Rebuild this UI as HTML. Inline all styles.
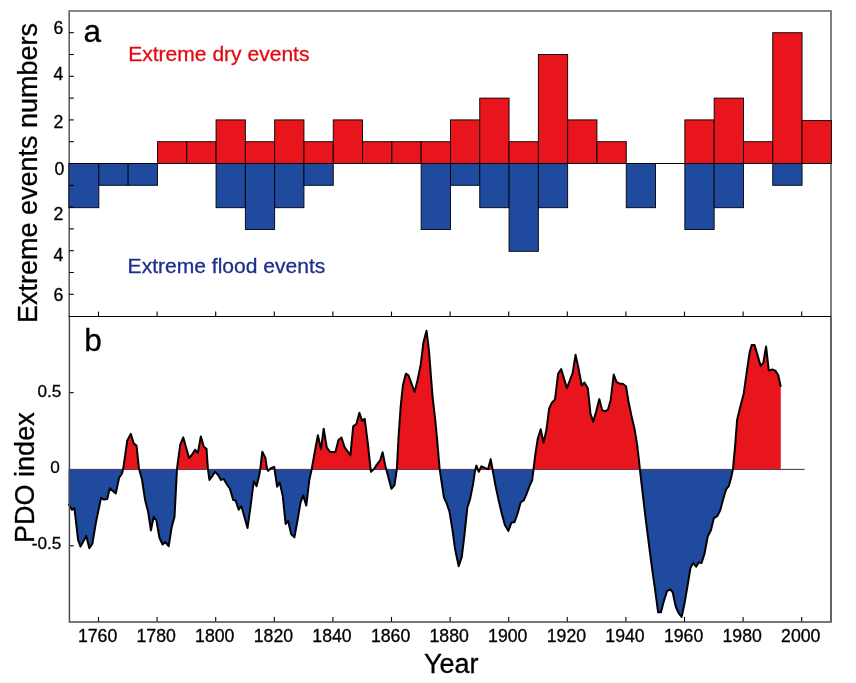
<!DOCTYPE html>
<html><head><meta charset="utf-8"><title>Extreme events and PDO index</title>
<style>html,body{margin:0;padding:0;background:#fff}svg{display:block}text{font-family:"Liberation Sans",Arial,sans-serif;fill:#000;stroke:#000;stroke-width:0.3px}</style></head><body>
<svg width="856" height="683" viewBox="0 0 856 683">
<rect width="856" height="683" fill="#fff"/>
<path d="M69.2,316.5 V10.95 H831.0 V316.5" fill="none" stroke="#606060" stroke-width="1.6"/>
<g stroke="#000" stroke-width="0.9" stroke-linejoin="miter">
<rect x="68.90" y="163.50" width="29.95" height="44.20" fill="#204a9e"/>
<rect x="98.85" y="163.50" width="29.30" height="21.80" fill="#204a9e"/>
<rect x="128.15" y="163.50" width="29.30" height="21.80" fill="#204a9e"/>
<rect x="157.45" y="141.70" width="29.30" height="21.80" fill="#e8151c"/>
<rect x="186.75" y="141.70" width="29.30" height="21.80" fill="#e8151c"/>
<rect x="216.05" y="119.90" width="29.30" height="43.60" fill="#e8151c"/>
<rect x="216.05" y="163.50" width="29.30" height="44.20" fill="#204a9e"/>
<rect x="245.35" y="141.70" width="29.30" height="21.80" fill="#e8151c"/>
<rect x="245.35" y="163.50" width="29.30" height="66.00" fill="#204a9e"/>
<rect x="274.65" y="119.90" width="29.30" height="43.60" fill="#e8151c"/>
<rect x="274.65" y="163.50" width="29.30" height="44.20" fill="#204a9e"/>
<rect x="303.95" y="141.70" width="29.30" height="21.80" fill="#e8151c"/>
<rect x="303.95" y="163.50" width="29.30" height="21.80" fill="#204a9e"/>
<rect x="333.25" y="119.90" width="29.30" height="43.60" fill="#e8151c"/>
<rect x="362.55" y="141.70" width="29.30" height="21.80" fill="#e8151c"/>
<rect x="391.85" y="141.70" width="29.30" height="21.80" fill="#e8151c"/>
<rect x="421.15" y="141.70" width="29.30" height="21.80" fill="#e8151c"/>
<rect x="421.15" y="163.50" width="29.30" height="66.00" fill="#204a9e"/>
<rect x="450.45" y="119.90" width="29.30" height="43.60" fill="#e8151c"/>
<rect x="450.45" y="163.50" width="29.30" height="21.80" fill="#204a9e"/>
<rect x="479.75" y="98.10" width="29.30" height="65.40" fill="#e8151c"/>
<rect x="479.75" y="163.50" width="29.30" height="44.20" fill="#204a9e"/>
<rect x="509.05" y="141.70" width="29.30" height="21.80" fill="#e8151c"/>
<rect x="509.05" y="163.50" width="29.30" height="87.80" fill="#204a9e"/>
<rect x="538.35" y="54.50" width="29.30" height="109.00" fill="#e8151c"/>
<rect x="538.35" y="163.50" width="29.30" height="44.20" fill="#204a9e"/>
<rect x="567.65" y="119.90" width="29.30" height="43.60" fill="#e8151c"/>
<rect x="596.95" y="141.70" width="29.30" height="21.80" fill="#e8151c"/>
<rect x="626.25" y="163.50" width="29.30" height="44.20" fill="#204a9e"/>
<rect x="684.85" y="119.90" width="29.30" height="43.60" fill="#e8151c"/>
<rect x="684.85" y="163.50" width="29.30" height="66.00" fill="#204a9e"/>
<rect x="714.15" y="98.10" width="29.30" height="65.40" fill="#e8151c"/>
<rect x="714.15" y="163.50" width="29.30" height="44.20" fill="#204a9e"/>
<rect x="743.45" y="141.70" width="29.30" height="21.80" fill="#e8151c"/>
<rect x="772.75" y="32.70" width="29.30" height="130.80" fill="#e8151c"/>
<rect x="772.75" y="163.50" width="29.30" height="21.80" fill="#204a9e"/>
<rect x="802.05" y="120.60" width="29.30" height="42.90" fill="#e8151c"/>
</g>
<line x1="69.2" y1="163.5" x2="831.0" y2="163.5" stroke="#000" stroke-width="1.1"/>
<defs><clipPath id="up"><rect x="0" y="0" width="856" height="469.4"/></clipPath><clipPath id="dn"><rect x="0" y="469.4" width="856" height="300"/></clipPath></defs>
<line x1="69.2" y1="469.4" x2="804.6" y2="469.4" stroke="#000" stroke-width="0.8"/>
<polygon points="68.6,469.4 68.6,504.1 71.9,509.8 74.4,508.2 78.1,540.0 80.5,546.6 86.3,535.9 89.3,548.2 92.4,543.7 95.9,522.6 101.0,498.0 104.1,499.6 107.2,499.0 109.8,488.3 115.8,493.4 119.1,477.8 121.9,473.7 123.2,468.8 127.3,440.5 130.8,433.9 133.8,443.6 136.5,445.6 139.0,468.8 142.0,479.5 145.1,500.0 148.2,512.3 150.9,530.4 153.7,516.8 156.4,520.5 159.5,538.0 162.6,544.5 165.2,542.0 168.7,546.2 171.8,526.7 174.5,517.0 177.0,468.8 180.2,444.6 183.3,437.4 186.4,448.7 189.1,458.0 192.2,454.5 195.0,449.7 197.9,452.8 200.8,436.4 203.8,446.7 206.5,448.7 207.9,468.8 209.4,479.9 212.5,475.8 215.1,471.9 218.2,475.0 220.9,479.9 223.7,479.1 226.4,483.6 229.9,488.7 233.2,500.0 235.6,500.4 238.7,509.6 241.4,506.2 244.3,516.4 247.5,528.1 250.6,506.2 253.7,481.5 256.6,486.1 259.2,475.4 260.3,468.8 262.3,451.8 265.4,457.9 267.0,468.8 268.1,470.9 270.9,468.2 274.2,466.8 277.1,486.7 279.7,482.6 282.8,496.1 285.6,523.9 288.1,521.0 291.3,534.4 294.4,537.4 297.4,521.0 300.5,502.6 303.2,495.4 306.3,505.6 309.3,480.0 311.8,468.7 314.9,451.3 317.9,435.3 321.0,449.2 323.7,428.7 326.8,447.6 329.8,451.7 335.4,451.9 338.5,440.0 341.5,437.5 344.6,447.2 350.4,455.4 353.2,426.3 356.3,424.2 359.4,412.7 362.1,420.9 364.7,418.9 367.8,443.1 370.9,471.8 373.9,469.3 376.8,464.6 380.1,460.5 382.6,452.3 385.2,465.2 388.3,476.9 391.4,488.8 394.5,485.1 396.9,468.7 398.6,436.0 400.7,406.2 402.9,385.6 405.8,373.7 408.5,375.4 411.5,383.6 414.6,391.8 417.7,379.5 420.8,364.1 423.4,342.6 426.5,330.7 429.0,350.8 431.0,377.4 432.7,398.0 435.1,418.5 437.2,440.5 439.6,468.7 441.9,484.1 443.9,497.4 446.8,503.6 449.5,511.8 452.2,528.2 455.0,548.7 458.7,566.2 461.8,556.9 464.5,534.4 467.3,507.7 470.0,499.5 473.1,484.1 474.7,472.8 476.4,465.6 478.8,471.8 481.3,466.3 484.4,467.7 488.1,469.3 490.7,459.1 492.8,470.8 495.6,486.2 498.7,500.5 501.8,513.8 504.9,525.1 508.4,530.9 511.4,522.7 514.5,522.1 517.8,512.8 520.7,502.2 523.7,500.5 526.4,494.4 529.5,486.2 532.2,480.0 533.6,468.7 535.3,454.7 537.8,438.5 540.7,429.2 543.5,442.6 546.4,430.3 549.1,408.7 551.9,402.6 555.0,399.5 558.1,373.8 561.2,369.1 563.8,377.9 566.9,388.2 570.0,380.0 572.7,372.8 575.5,354.8 578.2,366.7 581.7,385.5 584.4,382.5 587.8,388.2 590.5,413.8 593.2,421.6 596.1,411.8 599.3,399.1 602.2,410.2 604.9,411.4 607.9,409.7 610.6,400.5 613.7,374.5 616.6,382.1 619.8,383.7 622.7,383.7 626.0,386.2 628.5,401.5 631.5,415.9 634.6,429.2 637.1,444.6 639.0,460.5 639.8,468.7 642.9,495.2 645.9,520.9 649.2,546.7 652.3,570.1 655.3,591.2 658.1,612.3 660.9,612.3 664.0,600.6 667.0,591.2 670.3,589.4 672.7,592.4 675.7,606.5 678.8,613.5 681.6,617.0 684.4,604.1 687.4,586.6 690.5,567.8 693.3,563.1 696.1,566.6 698.7,562.4 701.5,563.1 704.5,553.7 707.8,536.2 710.9,530.3 713.9,518.1 717.2,516.2 720.2,510.4 723.3,498.7 726.1,489.3 728.9,485.8 731.2,477.6 733.0,468.7 734.9,448.6 737.1,420.0 740.2,406.9 743.7,393.7 746.8,371.7 749.7,352.0 751.8,344.9 754.5,344.9 757.3,354.2 760.6,365.8 763.3,362.9 766.1,346.5 768.8,370.6 772.3,369.5 775.3,370.6 778.2,375.0 780.8,386.7 780.8,469.4" fill="#e8151c" clip-path="url(#up)"/>
<polygon points="68.6,469.4 68.6,504.1 71.9,509.8 74.4,508.2 78.1,540.0 80.5,546.6 86.3,535.9 89.3,548.2 92.4,543.7 95.9,522.6 101.0,498.0 104.1,499.6 107.2,499.0 109.8,488.3 115.8,493.4 119.1,477.8 121.9,473.7 123.2,468.8 127.3,440.5 130.8,433.9 133.8,443.6 136.5,445.6 139.0,468.8 142.0,479.5 145.1,500.0 148.2,512.3 150.9,530.4 153.7,516.8 156.4,520.5 159.5,538.0 162.6,544.5 165.2,542.0 168.7,546.2 171.8,526.7 174.5,517.0 177.0,468.8 180.2,444.6 183.3,437.4 186.4,448.7 189.1,458.0 192.2,454.5 195.0,449.7 197.9,452.8 200.8,436.4 203.8,446.7 206.5,448.7 207.9,468.8 209.4,479.9 212.5,475.8 215.1,471.9 218.2,475.0 220.9,479.9 223.7,479.1 226.4,483.6 229.9,488.7 233.2,500.0 235.6,500.4 238.7,509.6 241.4,506.2 244.3,516.4 247.5,528.1 250.6,506.2 253.7,481.5 256.6,486.1 259.2,475.4 260.3,468.8 262.3,451.8 265.4,457.9 267.0,468.8 268.1,470.9 270.9,468.2 274.2,466.8 277.1,486.7 279.7,482.6 282.8,496.1 285.6,523.9 288.1,521.0 291.3,534.4 294.4,537.4 297.4,521.0 300.5,502.6 303.2,495.4 306.3,505.6 309.3,480.0 311.8,468.7 314.9,451.3 317.9,435.3 321.0,449.2 323.7,428.7 326.8,447.6 329.8,451.7 335.4,451.9 338.5,440.0 341.5,437.5 344.6,447.2 350.4,455.4 353.2,426.3 356.3,424.2 359.4,412.7 362.1,420.9 364.7,418.9 367.8,443.1 370.9,471.8 373.9,469.3 376.8,464.6 380.1,460.5 382.6,452.3 385.2,465.2 388.3,476.9 391.4,488.8 394.5,485.1 396.9,468.7 398.6,436.0 400.7,406.2 402.9,385.6 405.8,373.7 408.5,375.4 411.5,383.6 414.6,391.8 417.7,379.5 420.8,364.1 423.4,342.6 426.5,330.7 429.0,350.8 431.0,377.4 432.7,398.0 435.1,418.5 437.2,440.5 439.6,468.7 441.9,484.1 443.9,497.4 446.8,503.6 449.5,511.8 452.2,528.2 455.0,548.7 458.7,566.2 461.8,556.9 464.5,534.4 467.3,507.7 470.0,499.5 473.1,484.1 474.7,472.8 476.4,465.6 478.8,471.8 481.3,466.3 484.4,467.7 488.1,469.3 490.7,459.1 492.8,470.8 495.6,486.2 498.7,500.5 501.8,513.8 504.9,525.1 508.4,530.9 511.4,522.7 514.5,522.1 517.8,512.8 520.7,502.2 523.7,500.5 526.4,494.4 529.5,486.2 532.2,480.0 533.6,468.7 535.3,454.7 537.8,438.5 540.7,429.2 543.5,442.6 546.4,430.3 549.1,408.7 551.9,402.6 555.0,399.5 558.1,373.8 561.2,369.1 563.8,377.9 566.9,388.2 570.0,380.0 572.7,372.8 575.5,354.8 578.2,366.7 581.7,385.5 584.4,382.5 587.8,388.2 590.5,413.8 593.2,421.6 596.1,411.8 599.3,399.1 602.2,410.2 604.9,411.4 607.9,409.7 610.6,400.5 613.7,374.5 616.6,382.1 619.8,383.7 622.7,383.7 626.0,386.2 628.5,401.5 631.5,415.9 634.6,429.2 637.1,444.6 639.0,460.5 639.8,468.7 642.9,495.2 645.9,520.9 649.2,546.7 652.3,570.1 655.3,591.2 658.1,612.3 660.9,612.3 664.0,600.6 667.0,591.2 670.3,589.4 672.7,592.4 675.7,606.5 678.8,613.5 681.6,617.0 684.4,604.1 687.4,586.6 690.5,567.8 693.3,563.1 696.1,566.6 698.7,562.4 701.5,563.1 704.5,553.7 707.8,536.2 710.9,530.3 713.9,518.1 717.2,516.2 720.2,510.4 723.3,498.7 726.1,489.3 728.9,485.8 731.2,477.6 733.0,468.7 734.9,448.6 737.1,420.0 740.2,406.9 743.7,393.7 746.8,371.7 749.7,352.0 751.8,344.9 754.5,344.9 757.3,354.2 760.6,365.8 763.3,362.9 766.1,346.5 768.8,370.6 772.3,369.5 775.3,370.6 778.2,375.0 780.8,386.7 780.8,469.4" fill="#204a9e" clip-path="url(#dn)"/>
<polyline points="68.6,504.1 71.9,509.8 74.4,508.2 78.1,540.0 80.5,546.6 86.3,535.9 89.3,548.2 92.4,543.7 95.9,522.6 101.0,498.0 104.1,499.6 107.2,499.0 109.8,488.3 115.8,493.4 119.1,477.8 121.9,473.7 123.2,468.8 127.3,440.5 130.8,433.9 133.8,443.6 136.5,445.6 139.0,468.8 142.0,479.5 145.1,500.0 148.2,512.3 150.9,530.4 153.7,516.8 156.4,520.5 159.5,538.0 162.6,544.5 165.2,542.0 168.7,546.2 171.8,526.7 174.5,517.0 177.0,468.8 180.2,444.6 183.3,437.4 186.4,448.7 189.1,458.0 192.2,454.5 195.0,449.7 197.9,452.8 200.8,436.4 203.8,446.7 206.5,448.7 207.9,468.8 209.4,479.9 212.5,475.8 215.1,471.9 218.2,475.0 220.9,479.9 223.7,479.1 226.4,483.6 229.9,488.7 233.2,500.0 235.6,500.4 238.7,509.6 241.4,506.2 244.3,516.4 247.5,528.1 250.6,506.2 253.7,481.5 256.6,486.1 259.2,475.4 260.3,468.8 262.3,451.8 265.4,457.9 267.0,468.8 268.1,470.9 270.9,468.2 274.2,466.8 277.1,486.7 279.7,482.6 282.8,496.1 285.6,523.9 288.1,521.0 291.3,534.4 294.4,537.4 297.4,521.0 300.5,502.6 303.2,495.4 306.3,505.6 309.3,480.0 311.8,468.7 314.9,451.3 317.9,435.3 321.0,449.2 323.7,428.7 326.8,447.6 329.8,451.7 335.4,451.9 338.5,440.0 341.5,437.5 344.6,447.2 350.4,455.4 353.2,426.3 356.3,424.2 359.4,412.7 362.1,420.9 364.7,418.9 367.8,443.1 370.9,471.8 373.9,469.3 376.8,464.6 380.1,460.5 382.6,452.3 385.2,465.2 388.3,476.9 391.4,488.8 394.5,485.1 396.9,468.7 398.6,436.0 400.7,406.2 402.9,385.6 405.8,373.7 408.5,375.4 411.5,383.6 414.6,391.8 417.7,379.5 420.8,364.1 423.4,342.6 426.5,330.7 429.0,350.8 431.0,377.4 432.7,398.0 435.1,418.5 437.2,440.5 439.6,468.7 441.9,484.1 443.9,497.4 446.8,503.6 449.5,511.8 452.2,528.2 455.0,548.7 458.7,566.2 461.8,556.9 464.5,534.4 467.3,507.7 470.0,499.5 473.1,484.1 474.7,472.8 476.4,465.6 478.8,471.8 481.3,466.3 484.4,467.7 488.1,469.3 490.7,459.1 492.8,470.8 495.6,486.2 498.7,500.5 501.8,513.8 504.9,525.1 508.4,530.9 511.4,522.7 514.5,522.1 517.8,512.8 520.7,502.2 523.7,500.5 526.4,494.4 529.5,486.2 532.2,480.0 533.6,468.7 535.3,454.7 537.8,438.5 540.7,429.2 543.5,442.6 546.4,430.3 549.1,408.7 551.9,402.6 555.0,399.5 558.1,373.8 561.2,369.1 563.8,377.9 566.9,388.2 570.0,380.0 572.7,372.8 575.5,354.8 578.2,366.7 581.7,385.5 584.4,382.5 587.8,388.2 590.5,413.8 593.2,421.6 596.1,411.8 599.3,399.1 602.2,410.2 604.9,411.4 607.9,409.7 610.6,400.5 613.7,374.5 616.6,382.1 619.8,383.7 622.7,383.7 626.0,386.2 628.5,401.5 631.5,415.9 634.6,429.2 637.1,444.6 639.0,460.5 639.8,468.7 642.9,495.2 645.9,520.9 649.2,546.7 652.3,570.1 655.3,591.2 658.1,612.3 660.9,612.3 664.0,600.6 667.0,591.2 670.3,589.4 672.7,592.4 675.7,606.5 678.8,613.5 681.6,617.0 684.4,604.1 687.4,586.6 690.5,567.8 693.3,563.1 696.1,566.6 698.7,562.4 701.5,563.1 704.5,553.7 707.8,536.2 710.9,530.3 713.9,518.1 717.2,516.2 720.2,510.4 723.3,498.7 726.1,489.3 728.9,485.8 731.2,477.6 733.0,468.7 734.9,448.6 737.1,420.0 740.2,406.9 743.7,393.7 746.8,371.7 749.7,352.0 751.8,344.9 754.5,344.9 757.3,354.2 760.6,365.8 763.3,362.9 766.1,346.5 768.8,370.6 772.3,369.5 775.3,370.6 778.2,375.0 780.8,386.7" fill="none" stroke="#000" stroke-width="2" stroke-linejoin="round" stroke-linecap="butt"/>
<g stroke="#000" stroke-width="1.1">
<line x1="69.2" y1="294.30" x2="73.8" y2="294.30"/>
<line x1="69.2" y1="272.50" x2="73.8" y2="272.50"/>
<line x1="69.2" y1="250.70" x2="73.8" y2="250.70"/>
<line x1="69.2" y1="228.90" x2="73.8" y2="228.90"/>
<line x1="69.2" y1="207.10" x2="73.8" y2="207.10"/>
<line x1="69.2" y1="185.30" x2="73.8" y2="185.30"/>
<line x1="69.2" y1="163.50" x2="73.8" y2="163.50"/>
<line x1="69.2" y1="141.70" x2="73.8" y2="141.70"/>
<line x1="69.2" y1="119.90" x2="73.8" y2="119.90"/>
<line x1="69.2" y1="98.10" x2="73.8" y2="98.10"/>
<line x1="69.2" y1="76.30" x2="73.8" y2="76.30"/>
<line x1="69.2" y1="54.50" x2="73.8" y2="54.50"/>
<line x1="69.2" y1="32.70" x2="73.8" y2="32.70"/>
<line x1="98.50" y1="316.5" x2="98.50" y2="311.6"/>
<line x1="98.50" y1="621.9" x2="98.50" y2="616.9"/>
<line x1="157.10" y1="316.5" x2="157.10" y2="311.6"/>
<line x1="157.10" y1="621.9" x2="157.10" y2="616.9"/>
<line x1="215.70" y1="316.5" x2="215.70" y2="311.6"/>
<line x1="215.70" y1="621.9" x2="215.70" y2="616.9"/>
<line x1="274.30" y1="316.5" x2="274.30" y2="311.6"/>
<line x1="274.30" y1="621.9" x2="274.30" y2="616.9"/>
<line x1="332.90" y1="316.5" x2="332.90" y2="311.6"/>
<line x1="332.90" y1="621.9" x2="332.90" y2="616.9"/>
<line x1="391.50" y1="316.5" x2="391.50" y2="311.6"/>
<line x1="391.50" y1="621.9" x2="391.50" y2="616.9"/>
<line x1="450.10" y1="316.5" x2="450.10" y2="311.6"/>
<line x1="450.10" y1="621.9" x2="450.10" y2="616.9"/>
<line x1="508.70" y1="316.5" x2="508.70" y2="311.6"/>
<line x1="508.70" y1="621.9" x2="508.70" y2="616.9"/>
<line x1="567.30" y1="316.5" x2="567.30" y2="311.6"/>
<line x1="567.30" y1="621.9" x2="567.30" y2="616.9"/>
<line x1="625.90" y1="316.5" x2="625.90" y2="311.6"/>
<line x1="625.90" y1="621.9" x2="625.90" y2="616.9"/>
<line x1="684.50" y1="316.5" x2="684.50" y2="311.6"/>
<line x1="684.50" y1="621.9" x2="684.50" y2="616.9"/>
<line x1="743.10" y1="316.5" x2="743.10" y2="311.6"/>
<line x1="743.10" y1="621.9" x2="743.10" y2="616.9"/>
<line x1="801.70" y1="316.5" x2="801.70" y2="311.6"/>
<line x1="801.70" y1="621.9" x2="801.70" y2="616.9"/>
<line x1="69.2" y1="392.7" x2="73.7" y2="392.7"/>
<line x1="69.2" y1="545.8" x2="73.7" y2="545.8"/>
</g>
<path d="M69.4,316.5 V621.9 H831.0 V316.5" fill="none" stroke="#4a4a4a" stroke-width="1.5"/>
<line x1="831.0" y1="316.5" x2="831.0" y2="621.9" stroke="#606060" stroke-width="1.6"/>
<line x1="68.60000000000001" y1="316.5" x2="831.0" y2="316.5" stroke="#000" stroke-width="1.2"/>
<g font-size="17.7" text-anchor="end">
<text x="63.4" y="34.2">6</text>
<text x="63.4" y="80.2">4</text>
<text x="63.4" y="127.6">2</text>
<text x="64.4" y="174.6">0</text>
<text x="63.4" y="219.5">2</text>
<text x="63.4" y="260.7">4</text>
<text x="63.4" y="300.7">6</text>
<text x="61.3" y="397.3" font-size="17.2">0.5</text>
<text x="59.9" y="473.2" font-size="17.2">0</text>
<text x="61.3" y="549.4" font-size="17.2">-0.5</text>
</g>
<g font-size="17.7" text-anchor="middle">
<text x="97.6" y="641.9">1760</text>
<text x="156.2" y="641.9">1780</text>
<text x="214.8" y="641.9">1800</text>
<text x="273.4" y="641.9">1820</text>
<text x="332.0" y="641.9">1840</text>
<text x="390.6" y="641.9">1860</text>
<text x="449.2" y="641.9">1880</text>
<text x="507.8" y="641.9">1900</text>
<text x="566.4" y="641.9">1920</text>
<text x="625.0" y="641.9">1940</text>
<text x="683.6" y="641.9">1960</text>
<text x="742.2" y="641.9">1980</text>
<text x="800.8" y="641.9">2000</text>
</g>
<text x="83.6" y="41.7" font-size="31.5">a</text>
<text x="84.2" y="350.8" font-size="31.5">b</text>
<text x="128.2" y="60.9" font-size="21.05" style="fill:#e20a13;stroke:#e20a13">Extreme dry events</text>
<text x="127.6" y="273.2" font-size="21.05" style="fill:#1c2f8e;stroke:#1c2f8e">Extreme flood events</text>
<text transform="translate(37.1,323.1) rotate(-90)" font-size="27">Extreme events numbers</text>
<text transform="translate(34.2,542.9) rotate(-90)" font-size="27">PDO index</text>
<text x="451.3" y="672.7" font-size="27" text-anchor="middle">Year</text>
</svg></body></html>
